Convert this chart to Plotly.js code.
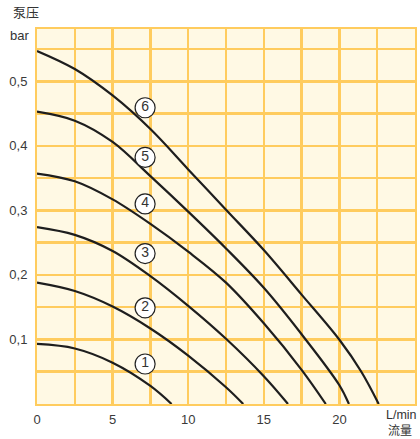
<!DOCTYPE html>
<html>
<head>
<meta charset="utf-8">
<script src="https://cdn.plot.ly/plotly-3.0.1.min.js"></script>
<style>html,body{margin:0;padding:0;background:#fff;}#chart{width:420px;height:439px;}</style>
</head>
<body>
<div id="chart"></div>
<script>
// Pump curves: flow (L/min) vs pressure (bar)
const curve1X = [0, 2.5, 5, 7.5, 8.9];
const curve1Y = [0.093, 0.086, 0.064, 0.028, 0];
const curve2X = [0, 2.5, 5, 7.5, 10, 12.5, 13.64];
const curve2Y = [0.188, 0.175, 0.151, 0.117, 0.075, 0.026, 0];
const curve3X = [0, 2.5, 5, 7.5, 10, 12.5, 15, 16.6];
const curve3Y = [0.274, 0.262, 0.237, 0.198, 0.152, 0.101, 0.043, 0];
const curve4X = [0, 2.5, 5, 7.5, 10, 12.5, 15, 17.5, 19.1];
const curve4Y = [0.357, 0.345, 0.317, 0.279, 0.236, 0.188, 0.125, 0.053, 0];
const curve5X = [0, 2.5, 5, 7.5, 10, 12.5, 15, 17.5, 20, 20.63];
const curve5Y = [0.453, 0.439, 0.406, 0.353, 0.298, 0.241, 0.18, 0.108, 0.029, 0];
const curve6X = [0, 2.5, 5, 7.5, 10, 12.5, 15, 17.5, 20, 21.45, 22.6];
const curve6Y = [0.547, 0.519, 0.478, 0.426, 0.3635, 0.301, 0.2385, 0.1695, 0.0995, 0.05, 0];

const labelText = ['1', '2', '3', '4', '5', '6'];
const labelX = [7.15, 7.15, 7.15, 7.15, 7.15, 7.15];
const labelY = [0.062, 0.149, 0.233, 0.31, 0.382, 0.459];

const xTickVals = [0, 2.5, 5, 7.5, 10, 12.5, 15, 17.5, 20, 22.5];
const xTickText = ['0', '', '5', '', '10', '', '15', '', '20', ''];
const yTickVals = [0.05, 0.1, 0.15, 0.2, 0.25, 0.3, 0.35, 0.4, 0.45, 0.5, 0.55];
const yTickText = ['', '0,1', '', '0,2', '', '0,3', '', '0,4', '', '0,5', ''];

const yTitle = ['泵压', 'bar'];
const xTitle = ['L/min', '流量'];

const curvesX = [curve1X, curve2X, curve3X, curve4X, curve5X, curve6X];
const curvesY = [curve1Y, curve2Y, curve3Y, curve4Y, curve5Y, curve6Y];

const GRID = '#FFCC5E';
const FONT = '"Liberation Sans", Arial, sans-serif';
const CJK = '"Noto Sans CJK SC", sans-serif';

const traces = curvesX.map((xs, i) => ({
  x: xs, y: curvesY[i], type: 'scatter', mode: 'lines',
  line: {color: '#1e1e1e', width: 2.2, shape: 'spline', smoothing: 1},
  hoverinfo: 'skip', showlegend: false
}));
traces.push({
  x: labelX, y: labelY, text: labelText, type: 'scatter', mode: 'markers+text',
  marker: {size: 20, color: '#ffffff', line: {color: '#222222', width: 1.2}},
  textposition: 'middle center',
  textfont: {family: FONT, size: 14, color: '#333333'},
  hoverinfo: 'skip', showlegend: false, cliponaxis: false
});

const layout = {
  width: 420, height: 439,
  margin: {l: 37, r: 5, t: 29, b: 35},
  paper_bgcolor: '#ffffff',
  plot_bgcolor: '#FFF9E4',
  showlegend: false,
  xaxis: {
    range: [0, 25], tickvals: xTickVals, ticktext: xTickText,
    showgrid: true, gridcolor: GRID, gridwidth: 2.5,
    zeroline: false, showline: true, mirror: true, linecolor: GRID, linewidth: 2,
    ticks: 'outside', ticklen: 2, tickcolor: 'rgba(0,0,0,0)',
    tickfont: {family: FONT, size: 13, color: '#3a3a3a'}, fixedrange: true
  },
  yaxis: {
    range: [0, 0.581], tickvals: yTickVals, ticktext: yTickText,
    showgrid: true, gridcolor: GRID, gridwidth: 2.5,
    zeroline: false, showline: true, mirror: true, linecolor: GRID, linewidth: 2,
    ticks: 'outside', ticklen: 5, tickcolor: 'rgba(0,0,0,0)',
    tickfont: {family: FONT, size: 13, color: '#3a3a3a'}, fixedrange: true
  },
  annotations: [
    {text: yTitle[0], xref: 'paper', yref: 'paper', x: -0.029, y: 1.047, xanchor: 'center', yanchor: 'middle', showarrow: false, borderpad: 0, font: {family: CJK, size: 13, color: '#333333'}},
    {text: yTitle[1], xref: 'paper', yref: 'paper', x: -0.046, y: 0.984, xanchor: 'center', yanchor: 'middle', showarrow: false, borderpad: 0, font: {family: FONT, size: 13, color: '#333333'}},
    {text: xTitle[0], xref: 'paper', yref: 'paper', x: 0.9656, y: -0.008, xanchor: 'center', yanchor: 'top', showarrow: false, borderpad: 0, font: {family: FONT, size: 12.5, color: '#333333'}},
    {text: xTitle[1], xref: 'paper', yref: 'paper', x: 0.9603, y: -0.0933, xanchor: 'center', yanchor: 'bottom', showarrow: false, borderpad: 0, font: {family: CJK, size: 12, color: '#333333'}}
  ]
};

Plotly.newPlot('chart', traces, layout, {displayModeBar: false, staticPlot: true});
</script>
</body>
</html>
